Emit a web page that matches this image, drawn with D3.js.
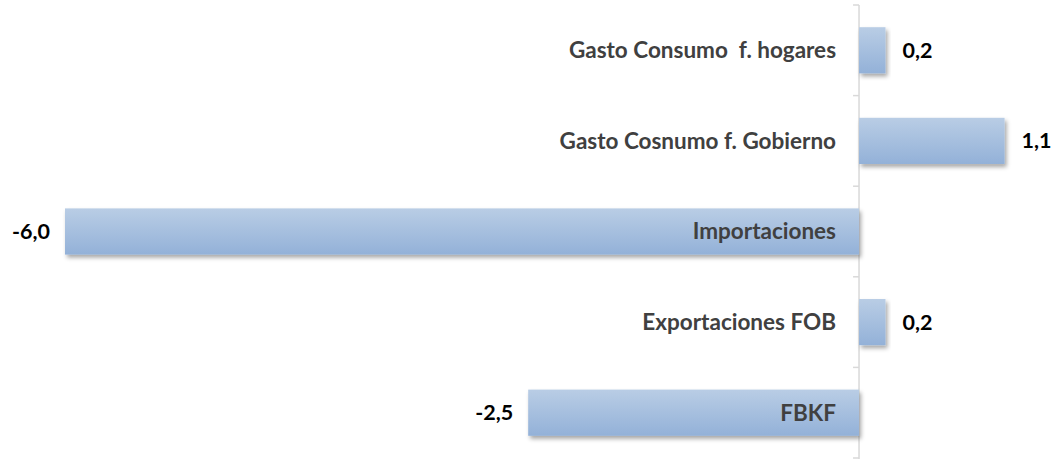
<!DOCTYPE html>
<html>
<head>
<meta charset="utf-8">
<script src="https://cdn.jsdelivr.net/npm/d3@7"></script>
<style>
  body { margin: 0; background: #fff; }
  text { font-family: Lato, "Open Sans", sans-serif; font-weight: bold; white-space: pre; }
</style>
</head>
<body>
<script>
var categories = ["Gasto Consumo  f. hogares", "Gasto Cosnumo f. Gobierno", "Importaciones", "Exportaciones FOB", "FBKF"];
var values = [0.2, 1.1, -6.0, 0.2, -2.5];
var valueLabels = ["0,2", "1,1", "-6,0", "0,2", "-2,5"];

var w = 1055, h = 459;

var svg = d3.select("body").append("svg")
    .attr("width", w)
    .attr("height", h);

var defs = svg.append("defs");
var grad = defs.append("linearGradient")
    .attr("id", "barGrad")
    .attr("x1", 0).attr("y1", 0).attr("x2", 0).attr("y2", 1);
grad.append("stop").attr("offset", "0%").attr("stop-color", "#b9cde5");
grad.append("stop").attr("offset", "100%").attr("stop-color", "#93b1d8");

var shadow = defs.append("filter").attr("id", "shadow")
    .attr("x", "-10%").attr("y", "-20%").attr("width", "130%").attr("height", "150%");
shadow.append("feDropShadow")
    .attr("dx", 2).attr("dy", 3).attr("stdDeviation", 2)
    .attr("flood-color", "#000").attr("flood-opacity", 0.35);

//scales
var x = d3.scaleLinear().domain([-6, 1.1]).range([65, 1004.6]);
var y = d3.scaleBand().domain(categories).range([5, 458])
    .paddingInner(0.49).paddingOuter(0.245);

var x0 = x(0);
var step = y.step();

// axis line with ticks at category boundaries
var axis = svg.append("g");
axis.append("line")
    .attr("x1", x0).attr("x2", x0)
    .attr("y1", 5).attr("y2", h)
    .attr("stroke", "#d9d9d9").attr("stroke-width", 1.5);
axis.selectAll("line.tick")
    .data(d3.range(categories.length + 1))
    .enter()
    .append("line")
    .attr("class", "tick")
    .attr("x1", x0 - 6).attr("x2", x0)
    .attr("y1", function(i) { return 5 + i * step; })
    .attr("y2", function(i) { return 5 + i * step; })
    .attr("stroke", "#d9d9d9").attr("stroke-width", 1.5);

// bars
svg.selectAll("rect.bar")
    .data(values)
    .enter()
    .append("rect")
    .attr("class", "bar")
    .attr("x", function(d) { return Math.min(x(d), x0); })
    .attr("y", function(d, i) { return y(categories[i]); })
    .attr("width", function(d) { return Math.abs(x(d) - x0); })
    .attr("height", y.bandwidth())
    .attr("fill", "url(#barGrad)")
    .attr("filter", "url(#shadow)");

// category labels, left of the zero line
svg.selectAll("text.cat")
    .data(categories)
    .enter()
    .append("text")
    .attr("class", "cat")
    .attr("x", x0 - 23)
    .attr("y", function(d) { return y(d) + y.bandwidth() / 2; })
    .attr("dy", "0.35em")
    .attr("text-anchor", "end")
    .attr("font-size", 22.5)
    .attr("fill", "#404040")
    .text(function(d) { return d; });

// value labels
svg.selectAll("text.val")
    .data(values)
    .enter()
    .append("text")
    .attr("class", "val")
    .attr("x", function(d) { return d >= 0 ? x(d) + 17 : x(d) - 15; })
    .attr("y", function(d, i) { return y(categories[i]) + y.bandwidth() / 2; })
    .attr("dy", "0.35em")
    .attr("text-anchor", function(d) { return d >= 0 ? "start" : "end"; })
    .attr("font-size", 21.5)
    .attr("fill", "#000")
    .text(function(d, i) { return valueLabels[i]; });
</script>
</body>
</html>
